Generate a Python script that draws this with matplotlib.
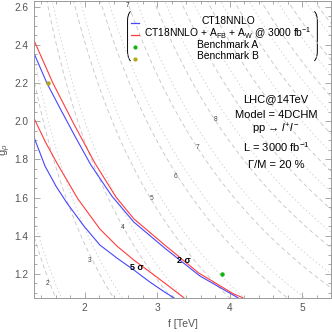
import numpy as np
import matplotlib.pyplot as plt
from matplotlib.path import Path
from matplotlib.patches import PathPatch

plt.rcParams['font.family'] = ['Liberation Sans', 'DejaVu Sans']
plt.rcParams['mathtext.fontset'] = 'custom'
plt.rcParams['mathtext.rm'] = 'Liberation Sans'
plt.rcParams['mathtext.it'] = 'Liberation Sans:italic'
plt.rcParams['mathtext.bf'] = 'Liberation Sans:bold'
plt.rcParams['lines.scale_dashes'] = False
plt.rcParams['lines.dashed_pattern'] = [3.0, 2.2]
plt.rcParams['lines.dotted_pattern'] = [1.0, 1.8]

# exclusion lines (f in TeV, g_rho)
blue_2s_f = [1.300, 1.479, 1.659, 1.866, 2.086, 2.376, 2.679, 3.121, 3.590, 4.114]
blue_2s_g = [2.356, 2.199, 2.068, 1.921, 1.770, 1.607, 1.471, 1.330, 1.189, 1.075]
red_2s_f = [1.300, 1.562, 1.852, 2.141, 2.431, 2.679, 3.121, 3.576, 4.059, 4.183]
red_2s_g = [2.424, 2.199, 1.984, 1.780, 1.603, 1.488, 1.346, 1.204, 1.094, 1.075]
blue_5s_f = [1.300, 1.452, 1.603, 1.755, 1.990, 2.210, 2.444, 2.679, 2.900, 3.121, 3.231]
blue_5s_g = [1.916, 1.765, 1.660, 1.571, 1.450, 1.351, 1.283, 1.220, 1.157, 1.100, 1.075]
red_5s_f = [1.300, 1.452, 1.617, 1.907, 2.210, 2.444, 2.679, 2.900, 3.121, 3.369]
red_5s_g = [2.016, 1.895, 1.780, 1.592, 1.435, 1.346, 1.272, 1.210, 1.147, 1.075]

# benchmark points
bench_a = (3.9, 1.2)
bench_b = (1.5, 2.2)

# gray resonance-mass contours (TeV); M ~ f*sqrt(g_rho^2 + 0.41)
mz_levels = [2, 3, 4, 5, 6, 7, 8, 9, 10, 11, 12, 13, 14]
mw_levels = [2.1, 3.15, 4.2, 5.25, 6.3, 7.35, 8.4, 9.45, 10.5, 11.55, 12.6, 13.65, 14.7]
clabel_f = [1.493, 2.072, 2.528, 2.928, 3.259, 3.562, 3.810, 2.597]
clabel_g = [1.147, 1.272, 1.445, 1.597, 1.712, 1.860, 2.010, 2.607]
clabel_txt = ['2', '3', '4', '5', '6', '7', '8', '7']

sigma_f = [2.716, 3.369]
sigma_g = [1.232, 1.272]
sigma_txt = ['5 σ', '2 σ']

legend_labels = ['CT18NNLO',
                 r'CT18NNLO + A$_{\rm FB}$ + A$_{\rm W}$ @ 3000 fb$^{-1}$',
                 'Benchmark A', 'Benchmark B']
info_lines = ['LHC@14TeV', 'Model = 4DCHM', r'pp → $l^{+}l^{-}$',
              r'L = 3000 fb$^{-1}$', 'Γ/M = 20 %']

blue = '#4646ff'
red = '#ff3c3c'
green = '#12b312'
olive = '#b3a619'
axis_gray = '#9a9a9a'

fig = plt.figure(figsize=(3.32, 3.32), dpi=100)
ax = fig.add_axes([0.1024, 0.1033, 0.8946, 0.8937])

F, G = np.meshgrid(np.linspace(1.25, 5.45, 300), np.linspace(1.0, 2.7, 300))
M = F * np.sqrt(G ** 2 + 0.41)
ax.contour(F, G, M, levels=mz_levels, colors='#c4c4c4', linewidths=0.6,
           linestyles='dashed')
ax.contour(F, G, M, levels=mw_levels, colors='#cccccc', linewidths=0.6,
           linestyles='dotted')

for x, y, t in zip(clabel_f, clabel_g, clabel_txt):
    ax.text(x, y, t, fontsize=4.8, color='#444444', ha='center', va='center')

ax.plot(blue_5s_f, blue_5s_g, color=blue, lw=0.8)
ax.plot(red_5s_f, red_5s_g, color=red, lw=0.8)
ax.plot(blue_2s_f, blue_2s_g, color=blue, lw=0.8)
ax.plot(red_2s_f, red_2s_g, color=red, lw=0.8)

for x, y, t in zip(sigma_f, sigma_g, sigma_txt):
    ax.text(x, y, t, fontsize=6.5, fontweight='bold', color='black',
            ha='center', va='center')

ax.plot(*bench_a, 'o', color=green, ms=3.2, mec='none')
ax.plot(*bench_b, 'o', color=olive, ms=3.2, mec='none')

# legend drawn by hand so the labels are centred like the original
tr = ax.transAxes
ax.plot([0.327, 0.354], [0.926, 0.926], color=blue, lw=0.9, transform=tr)
ax.plot([0.327, 0.354], [0.886, 0.886], color=red, lw=0.9, transform=tr)
ax.plot([0.340], [0.844], 'o', color=green, ms=3.0, mec='none', transform=tr)
ax.plot([0.340], [0.805], 'o', color=olive, ms=3.0, mec='none', transform=tr)
legend_y = [0.934, 0.893, 0.853, 0.814]
for y, t in zip(legend_y, legend_labels):
    ax.text(0.653, y, t, fontsize=7.4, ha='center', va='center', transform=tr)

codes = [Path.MOVETO, Path.CURVE3, Path.CURVE3, Path.LINETO, Path.CURVE3, Path.CURVE3]
left_br = Path([(0.325, 0.965), (0.315, 0.955), (0.315, 0.935),
                (0.315, 0.830), (0.315, 0.808), (0.325, 0.798)], codes)
right_br = Path([(0.944, 0.965), (0.954, 0.955), (0.954, 0.935),
                 (0.954, 0.830), (0.954, 0.808), (0.944, 0.798)], codes)
for p in (left_br, right_br):
    ax.add_patch(PathPatch(p, fill=False, lw=0.7, color='black', transform=tr))

info_y = [0.670, 0.616, 0.566, 0.508, 0.447]
for y, t in zip(info_y, info_lines):
    ax.text(0.815, y, t, fontsize=8.0, ha='center', va='center', transform=tr)

ax.set_xlim(1.3, 5.4)
ax.set_ylim(1.075, 2.63)
ax.set_xticks([2, 3, 4, 5])
ax.set_xticks(np.arange(1.4, 5.4, 0.2), minor=True)
ax.set_yticks([1.2, 1.4, 1.6, 1.8, 2.0, 2.2, 2.4, 2.6])
ax.set_yticks(np.arange(1.1, 2.63, 0.05), minor=True)
ax.set_yticklabels(['1.2', '1.4', '1.6', '1.8', '2.0', '2.2', '2.4', '2.6'])
ax.tick_params(which='both', direction='in', top=True, right=True,
               color=axis_gray, labelcolor='#555555', labelsize=7.3, width=0.6)
ax.tick_params(which='major', length=4, pad=4)
ax.tick_params(which='minor', length=2)
for s in ax.spines.values():
    s.set_color(axis_gray)
    s.set_linewidth(0.7)

ax.set_xlabel('f [TeV]', fontsize=7.6, color='#555555', labelpad=4)
ax.set_ylabel(r'g$_{\rho}$', fontsize=8, color='#555555', labelpad=1)

fig.savefig('out.png', dpi=100)
